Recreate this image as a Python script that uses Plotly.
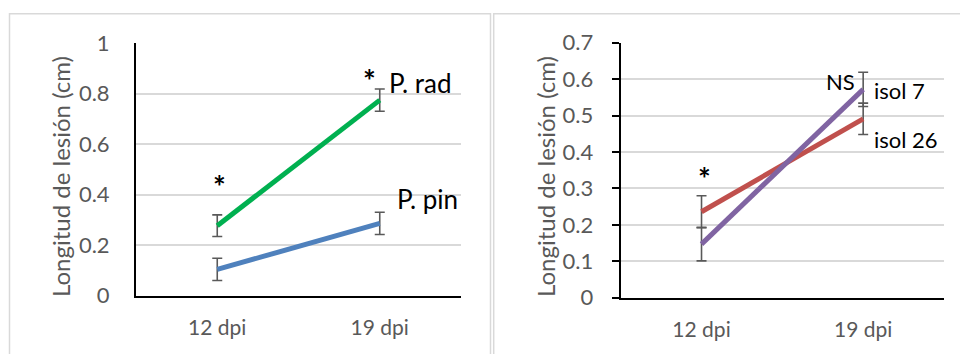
import plotly.graph_objects as go

# ---- data ----
categories = ["12 dpi", "19 dpi"]

# left panel
prad = [0.277, 0.774]
prad_err = [0.043, 0.044]
ppin = [0.104, 0.286]
ppin_err = [0.044, 0.044]
left_ticks = [0, 0.2, 0.4, 0.6, 0.8, 1]
left_ticktext = ["0", "0.2", "0.4", "0.6", "0.8", "1"]

# right panel
isol26 = [0.236, 0.491]
isol26_err = [0.044, 0.043]
isol7 = [0.147, 0.572]
isol7_err = [0.046, 0.047]
right_ticks = [0, 0.1, 0.2, 0.3, 0.4, 0.5, 0.6, 0.7]
right_ticktext = ["0", "0.1", "0.2", "0.3", "0.4", "0.5", "0.6", "0.7"]

W, H = 960, 354
FONT = "Lato, 'Open Sans', sans-serif"
GREY = "#595959"

def px(x):
    return x / W

def py(y):
    return 1 - y / H

fig = go.Figure()

def add_series(vals, errs, color, xa, ya):
    fig.add_trace(go.Scatter(
        x=categories, y=vals, mode="lines",
        line=dict(color=color, width=5),
        error_y=dict(type="data", array=errs, visible=True,
                     color=GREY, thickness=1.6, width=5),
        xaxis=xa, yaxis=ya, showlegend=False, hoverinfo="skip"))

add_series(ppin, ppin_err, "#4F81BD", "x", "y")
add_series(prad, prad_err, "#00B050", "x", "y")
add_series(isol26, isol26_err, "#C0504D", "x2", "y2")
add_series(isol7, isol7_err, "#8064A2", "x2", "y2")

xcommon = dict(type="category", categoryorder="array", categoryarray=categories,
               range=[-0.5, 1.5], showgrid=False, zeroline=False,
               showline=True, linecolor="black", linewidth=2,
               ticks="", tickfont=dict(family=FONT, size=21, color=GREY),
               ticklabelstandoff=12, fixedrange=True, automargin=False)

fig.update_layout(
    width=W, height=H, autosize=False,
    margin=dict(l=0, r=0, t=0, b=0, pad=0),
    paper_bgcolor="white", plot_bgcolor="white",
    xaxis=dict(domain=[px(136), px(461)], anchor="y", **xcommon),
    xaxis2=dict(domain=[px(620.7), px(944)], anchor="y2", **xcommon),
    yaxis=dict(domain=[py(295.7), py(43)], anchor="x", range=[0, 1],
               tickvals=left_ticks, ticktext=left_ticktext,
               showgrid=True, gridcolor="#D9D9D9", gridwidth=1.5,
               zeroline=False, showline=True, linecolor="black", linewidth=2,
               ticks="", tickfont=dict(family=FONT, size=22, color=GREY),
               ticklabelstandoff=20, fixedrange=True, automargin=False),
    yaxis2=dict(domain=[py(297.7), py(42.7)], anchor="x2", range=[0, 0.7],
                tickvals=right_ticks, ticktext=right_ticktext,
                showgrid=True, gridcolor="#D9D9D9", gridwidth=1.5,
                zeroline=False, showline=True, linecolor="black", linewidth=2,
                ticks="outside", ticklen=7, tickcolor="black", tickwidth=1.5,
                tickfont=dict(family=FONT, size=22, color=GREY),
                ticklabelstandoff=14, fixedrange=True, automargin=False),
)

# chart-area borders
fig.add_shape(type="rect", xref="paper", yref="paper",
              x0=px(9.5), x1=px(490.5), y0=-0.2, y1=py(13.7),
              line=dict(color="#D9D9D9", width=1.5), layer="below")
fig.add_shape(type="rect", xref="paper", yref="paper",
              x0=px(493.7), x1=1.2, y0=-0.2, y1=py(13.7),
              line=dict(color="#D9D9D9", width=1.5), layer="below")

# axis titles
for xc in (60, 545):
    fig.add_annotation(text="Longitud de lesión (cm)", xref="paper", yref="paper",
                       x=px(xc), y=py(177), textangle=-90, showarrow=False,
                       font=dict(family=FONT, size=24, color=GREY),
                       xanchor="center", yanchor="middle")

def label(text, xa, ya, x, y, size, xanchor="left", xshift=0, yshift=0):
    fig.add_annotation(text=text, xref=xa, yref=ya, x=x, y=y,
                       showarrow=False, xanchor=xanchor, yanchor="middle",
                       xshift=xshift, yshift=yshift,
                       font=dict(family=FONT, size=size, color="black"))

# left labels
label("P. rad", "x", "y", categories[1], prad[1], 26, xshift=7, yshift=17)
label("P. pin", "x", "y", categories[1], ppin[1], 26, xshift=15, yshift=24)
label("<b>*</b>", "x", "y", categories[0], prad[0], 30, xanchor="center", xshift=2, yshift=40)
label("<b>*</b>", "x", "y", categories[1], prad[1], 30, xanchor="center", xshift=-10, yshift=20)

# right labels
label("isol 7", "x2", "y2", categories[1], isol7[1], 22, xshift=9, yshift=-1)
label("isol 26", "x2", "y2", categories[1], isol26[1], 22, xshift=9, yshift=-21)
label("NS", "x2", "y2", categories[1], isol7[1], 22, xanchor="right", xshift=-6, yshift=8)
label("<b>*</b>", "x2", "y2", categories[0], isol26[0], 30, xanchor="center", xshift=3, yshift=34)

fig.write_html("out.html", config={"responsive": False})
